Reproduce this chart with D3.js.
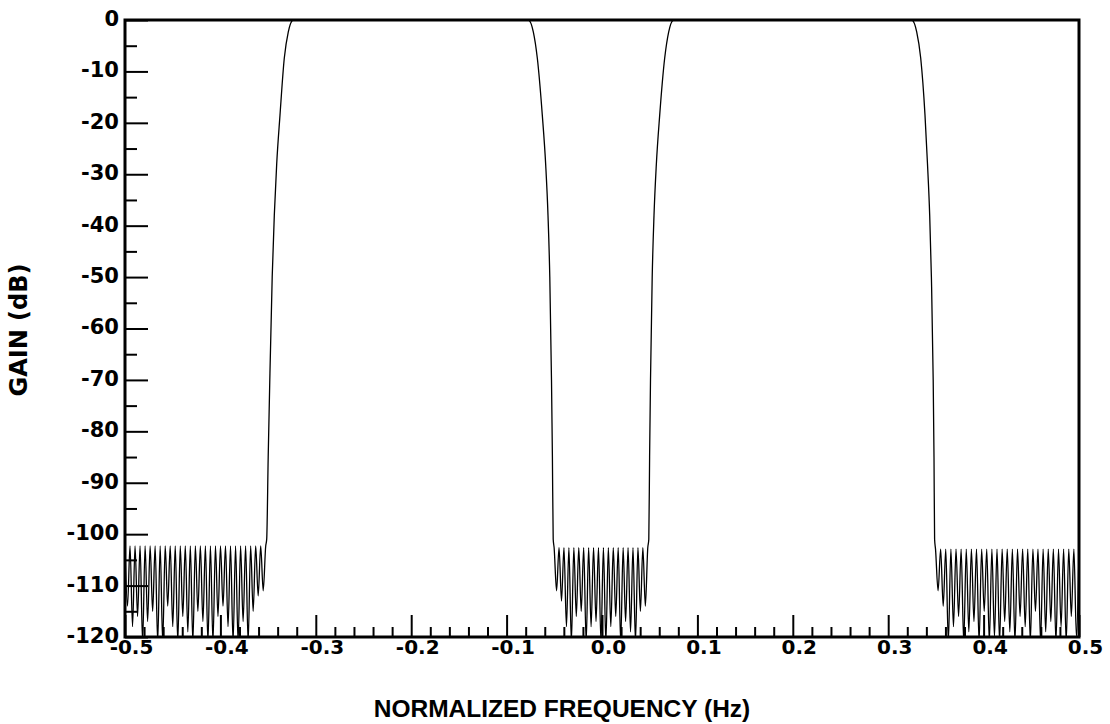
<!DOCTYPE html>
<html>
<head>
<meta charset="utf-8">
<script src="https://cdn.jsdelivr.net/npm/d3@7"></script>
<style>
  body { margin: 0; background: #fff; }
  svg { display: block; }
  .tick text { font-family: "DejaVu Sans", sans-serif; font-weight: bold; font-size: 21px; fill: #000; }
  .tick line { stroke: #000; stroke-width: 2; }
</style>
</head>
<body>
<div id="canvas"></div>
<script>
// tick values and labels
var xTicks = [-0.5, -0.4, -0.3, -0.2, -0.1, 0.0, 0.1, 0.2, 0.3, 0.4, 0.5]
var xTickLabels = ["-0.5", "-0.4", "-0.3", "-0.2", "-0.1", "0.0", "0.1", "0.2", "0.3", "0.4", "0.5"]
var yTicks = [0, -10, -20, -30, -40, -50, -60, -70, -80, -90, -100, -110, -120]
var yTickLabels = ["0", "-10", "-20", "-30", "-40", "-50", "-60", "-70", "-80", "-90", "-100", "-110", "-120"]

// passband edges, [frequency, gain dB]
var edgeRise1 = [[-0.35147, -101], [-0.34990, -85], [-0.34822, -70], [-0.34570, -50], [-0.34350, -38], [-0.34099, -28], [-0.33753, -18.5], [-0.33302, -7.4], [-0.32883, -2.3], [-0.32358, 0]]
var edgeFall1 = [[-0.07725, 0], [-0.07201, -2.3], [-0.06782, -7.4], [-0.06258, -18.5], [-0.05901, -28.2], [-0.05660, -38], [-0.05472, -50], [-0.05294, -70], [-0.05199, -85], [-0.05115, -101]]
var edgeRise2 = [[0.04906, -101], [0.04990, -85], [0.05084, -70], [0.05262, -50], [0.05451, -38], [0.05692, -28.2], [0.06048, -18.5], [0.06572, -7.4], [0.06992, -2.3], [0.07516, 0]]
var edgeFall2 = [[0.32463, 0], [0.32987, -2.3], [0.33407, -7.4], [0.33857, -18.5], [0.34119, -28], [0.34350, -38], [0.34528, -50], [0.34717, -70], [0.34801, -85], [0.34864, -101]]
var passMid = [[-0.2, 0], [0.2, 0]]

// stopbands: range, ripple peak level, depth of each null (below -120 is clipped)
var stop1Range = [-0.5, -0.3525]
var stop2Range = [-0.0502, 0.0480]
var stop3Range = [0.3496, 0.5]
var stopPeaks = [-102.3, -102.6, -102.9]
var stop1Nulls = [-114, -118, -116, -121, -117, -115, -121, -121, -114, -118, -121, -116, -119, -121, -115, -117, -121, -121, -116, -114, -118, -121, -121, -117, -121, -115, -112, -111]
var stop2Nulls = [-111, -113, -118, -121, -116, -115, -121, -118, -117, -121, -121, -118, -116, -121, -117, -119, -121, -115, -114]
var stop3Nulls = [-111, -114, -121, -118, -116, -121, -119, -117, -121, -115, -121, -120, -121, -117, -119, -121, -116, -118, -121, -115, -121, -119, -117, -121, -118, -121, -116, -120]

var width = 1110
var height = 724
var plot = {left: 125, right: 1079, top: 20, bottom: 637}

var svg = d3.select("#canvas").append("svg")
    .attr("width", width)
    .attr("height", height)

var x = d3.scaleLinear().domain([-0.5, 0.5]).range([plot.left, plot.right])
var y = d3.scaleLinear().domain([-120, 0]).range([plot.bottom, plot.top])

function stopband(range, peak, nulls) {
    var step = (range[1] - range[0]) / nulls.length
    var pts = [[range[0], peak]]
    nulls.forEach(function(d, i) {
        pts.push([range[0] + (i + 0.5) * step, d])
        pts.push([range[0] + (i + 1) * step, peak])
    })
    return pts
}

var points = [].concat(
    stopband(stop1Range, stopPeaks[0], stop1Nulls),
    edgeRise1, [passMid[0]], edgeFall1,
    stopband(stop2Range, stopPeaks[1], stop2Nulls),
    edgeRise2, [passMid[1]], edgeFall2,
    stopband(stop3Range, stopPeaks[2], stop3Nulls)
)

svg.append("clipPath").attr("id", "clip")
  .append("rect")
    .attr("x", plot.left).attr("y", plot.top)
    .attr("width", plot.right - plot.left).attr("height", plot.bottom - plot.top)

var line = d3.line()
    .x(function(d) { return x(d[0]) })
    .y(function(d) { return y(d[1]) })
    .curve(d3.curveMonotoneX)

svg.append("path")
    .datum(points)
    .attr("clip-path", "url(#clip)")
    .attr("fill", "none")
    .attr("stroke", "#000")
    .attr("stroke-width", 1.3)
    .attr("d", line)

// minor ticks
var xMinor = d3.range(-0.48, 0.5, 0.02).filter(function(v) { return Math.abs(v * 10 - Math.round(v * 10)) > 0.01 })
var yMinor = d3.range(-115, 0, 10)

svg.append("g")
    .attr("transform", "translate(0," + plot.bottom + ")")
    .call(d3.axisBottom(x).tickValues(xMinor).tickSize(-10).tickFormat(""))
    .call(function(g) { g.select(".domain").remove() })

svg.append("g")
    .attr("transform", "translate(" + plot.left + ",0)")
    .call(d3.axisLeft(y).tickValues(yMinor).tickSize(-12).tickFormat(""))
    .call(function(g) { g.select(".domain").remove() })

// major ticks with labels
svg.append("g")
    .attr("transform", "translate(0," + plot.bottom + ")")
    .call(d3.axisBottom(x).tickValues(xTicks).tickSize(-22).tickPadding(3)
        .tickFormat(function(d, i) { return xTickLabels[i] }))
    .call(function(g) { g.select(".domain").remove() })
    .call(function(g) { g.selectAll(".tick text").attr("x", 6).style("font-size", "20px") })

svg.append("g")
    .attr("transform", "translate(" + plot.left + ",0)")
    .call(d3.axisLeft(y).tickValues(yTicks).tickSize(-23).tickPadding(6)
        .tickFormat(function(d, i) { return yTickLabels[i] }))
    .call(function(g) { g.select(".domain").remove() })
    .call(function(g) { g.selectAll(".tick text").attr("dy", "0.26em") })

// frame
svg.append("rect")
    .attr("x", plot.left).attr("y", plot.top)
    .attr("width", plot.right - plot.left).attr("height", plot.bottom - plot.top)
    .attr("fill", "none")
    .attr("stroke", "#000")
    .attr("stroke-width", 3)

svg.append("text")
    .attr("x", 562)
    .attr("y", 717)
    .attr("text-anchor", "middle")
    .style("font-family", "Liberation Sans, Arial, sans-serif")
    .style("font-weight", "bold")
    .style("font-size", "24.5px")
    .text("NORMALIZED FREQUENCY (Hz)")

svg.append("text")
    .attr("transform", "translate(27,330) rotate(-90)")
    .attr("text-anchor", "middle")
    .style("font-family", "DejaVu Sans, sans-serif")
    .style("font-weight", "bold")
    .style("font-size", "24px")
    .text("GAIN (dB)")
</script>
</body>
</html>
